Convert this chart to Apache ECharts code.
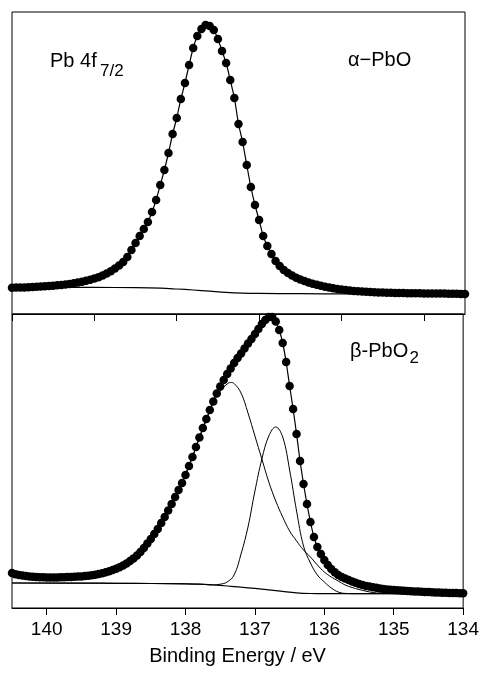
<!DOCTYPE html>
<html>
<head>
<meta charset="utf-8">
<script src="https://cdn.jsdelivr.net/npm/echarts@6/dist/echarts.min.js"></script>
<style>
html,body{margin:0;padding:0;background:#fff;}
#main{width:482px;height:679px;}
</style>
</head>
<body>
<div id="main"></div>
<script>
// energy grid of the measured points (eV), 0.05 eV step
const step = 0.05
const topStart = 140.0
const bottomStart = 140.5

// alpha-PbO, Pb 4f7/2 counts (arb. units), 140.00 -> 134.50
const topCounts = [
  26.3, 26.4, 26.5, 26.6, 26.8, 27.0, 27.2, 27.4, 27.7, 28.0,
  28.3, 28.7, 29.1, 29.6, 30.1, 30.8, 31.5, 32.3, 33.2, 34.2,
  35.4, 36.8, 38.5, 40.5, 42.8, 45.4, 48.4, 52.0, 57, 64,
  71, 78, 85, 92, 102, 114, 129, 144, 161, 180,
  196, 215, 231, 249, 266, 278, 285, 289, 288, 284,
  275, 263, 251, 234, 216, 190, 172, 149, 127, 109,
  94, 78, 68, 60, 53, 48, 44, 41, 38.5, 36.3,
  34.5, 33, 31.6, 30.3, 29.2, 28.2, 27.3, 26.5, 25.8, 25.1,
  24.5, 24.0, 23.5, 23.1, 22.8, 22.5, 22.2, 22.0, 21.8, 21.6,
  21.4, 21.3, 21.2, 21.1, 21.0, 20.9, 20.8, 20.8, 20.7, 20.7,
  20.6, 20.6, 20.5, 20.5, 20.4, 20.4, 20.3, 20.3, 20.2, 20.1,
  20.0
]
const topBgE = [140.0, 139.5, 139.0, 138.5, 138.2, 138.0, 137.8, 137.6, 137.4, 137.2, 137.0, 136.5, 136.0, 134.5]
const topBg = [26.7, 26.7, 26.6, 26.3, 25.8, 25.0, 24.0, 22.8, 21.6, 20.9, 20.6, 20.3, 20.1, 20.0]

// beta-PbO2 counts, 140.50 -> 134.00
const bottomCounts = [
  35.0, 33.8, 33.0, 32.4, 31.9, 31.5, 31.2, 31.0, 30.8, 30.7,
  30.6, 30.6, 30.6, 30.6, 30.7, 30.8, 30.9, 31.0, 31.2, 31.4,
  31.6, 31.9, 32.3, 32.8, 33.3, 34.0, 34.8, 35.7, 36.8, 38.0,
  39.3, 40.8, 42.5, 44.6, 47.0, 49.6, 52.5, 56.0, 60.0, 64.5,
  69, 74, 79, 85, 91, 97.5, 104, 111, 118, 125,
  133, 142, 151, 161, 170.5, 180, 189, 198, 206.5, 214.5,
  221.5, 228, 234, 239.5, 245, 250, 254.5, 259.5, 264.5, 269,
  274, 279, 284, 288, 291, 291, 286.5, 278, 265, 246,
  222, 199, 174, 147, 124, 104, 86, 71, 61, 54,
  48, 43, 39, 35.8, 33, 31, 29.5, 28, 26.5, 25.2,
  24, 23, 22, 21.4, 20.8, 20.2, 19.6, 19.1, 18.6, 18.3,
  18, 17.7, 17.5, 17.2, 17, 16.8, 16.6, 16.4, 16.2, 16.0,
  15.9, 15.7, 15.6, 15.4, 15.3, 15.2, 15.1, 15.0, 14.9, 14.8,
  14.7
]
const comp1E = [140.5, 140.3, 140.1, 139.9, 139.7, 139.5, 139.3, 139.1, 138.9, 138.7, 138.5, 138.3, 138.1, 137.9, 137.8, 137.7, 137.6, 137.5, 137.4, 137.35, 137.3, 137.2, 137.1, 137.0, 136.9, 136.8, 136.7, 136.6, 136.5, 136.4, 136.3, 136.2, 136.1, 136.0, 135.9, 135.8, 135.7, 135.6, 135.5, 135.4, 135.3, 135.2, 135.0, 134.0]
const comp1 = [35, 31.9, 30.8, 30.6, 30.9, 31.6, 33.3, 36.8, 42.5, 52.5, 69, 91, 118, 151, 170, 188, 205, 217, 224, 225.5, 224.5, 215, 195, 172, 149, 126, 107, 91, 77, 67, 58, 51, 43, 36, 31, 27, 23, 20.5, 18.5, 16.8, 15.5, 14.8, 14.4, 14.3]
const comp2E = [140.5, 139.0, 138.0, 137.8, 137.6, 137.5, 137.4, 137.3, 137.2, 137.1, 137.0, 136.9, 136.8, 136.7, 136.6, 136.5, 136.4, 136.3, 136.2, 136.1, 136.0, 135.9, 135.8, 135.7, 135.5, 134.0]
const comp2 = [25, 24.7, 24.2, 23.8, 23.2, 23.8, 26, 33, 54, 81, 117, 149, 172, 181, 171, 138, 97, 62, 45, 33, 26, 20, 16, 14.6, 14.3, 14.3]
const bottomBgE = [140.5, 139.5, 139.0, 138.5, 138.0, 137.8, 137.6, 137.4, 137.2, 137.0, 136.8, 136.6, 136.4, 136.2, 136.0, 134.0]
const bottomBg = [25.0, 24.9, 24.7, 24.5, 24.2, 23.8, 23.0, 22.0, 20.8, 19.6, 18.2, 16.6, 15.2, 14.5, 14.3, 14.3]

const topTicks = [140, 139, 138, 137, 136, 135]
const bottomTicks = [140, 139, 138, 137, 136, 135, 134]

function grid(start, vals){
  return vals.map((v,i)=>[+(start - i*step).toFixed(2), v])
}
function pairs(es, vs){
  return es.map((e,i)=>[e, vs[i]])
}

const font = '"Liberation Sans", Arial, sans-serif'
const topData = grid(topStart, topCounts)
const bottomData = grid(bottomStart, bottomCounts)

let myChart = echarts.init(document.getElementById('main'))
myChart.setOption({
  animation:false,
  backgroundColor:'#fff',
  grid:[
    {left:12, right:17, top:12, height:302, show:true, borderColor:'#000', borderWidth:1},
    {left:12, right:17, top:314, height:294, show:true, borderColor:'#000', borderWidth:1}
  ],
  xAxis:[
    {
      gridIndex:0, type:'value', min:134.5, max:140, inverse:true,
      axisLine:{lineStyle:{color:'#000', width:1}},
      axisTick:{length:7, customValues:topTicks, lineStyle:{color:'#000'}},
      axisLabel:{show:false},
      splitLine:{show:false}
    },
    {
      gridIndex:1, type:'value', min:134, max:140.5, inverse:true,
      axisLine:{lineStyle:{color:'#000', width:1}},
      axisTick:{length:7, customValues:bottomTicks, lineStyle:{color:'#000'}},
      axisLabel:{customValues:bottomTicks, color:'#000', fontSize:19, fontFamily:font, margin:12},
      splitLine:{show:false},
      name:'Binding Energy / eV',
      nameLocation:'middle',
      nameGap:38,
      nameTextStyle:{color:'#000', fontSize:20, fontFamily:font}
    }
  ],
  yAxis:[
    {gridIndex:0, type:'value', min:0, max:302, show:false},
    {gridIndex:1, type:'value', min:0, max:294, show:false}
  ],
  graphic:[
    {type:'text', x:50, y:61.7, style:{text:'Pb 4f', font:'20px '+font, fill:'#000', verticalAlign:'middle'}},
    {type:'text', x:100, y:71, style:{text:'7/2', font:'17px '+font, fill:'#000', verticalAlign:'middle'}},
    {type:'text', x:348, y:60, style:{text:'α\u2212PbO', font:'20px '+font, fill:'#000', verticalAlign:'middle'}},
    {type:'text', x:350, y:351.3, style:{text:'β-PbO', font:'20px '+font, fill:'#000', verticalAlign:'middle'}},
    {type:'text', x:409.5, y:358.5, style:{text:'2', font:'17px '+font, fill:'#000', verticalAlign:'middle'}}
  ],
  series:[
    {
      name:'top bg', type:'line', xAxisIndex:0, yAxisIndex:0,
      data:pairs(topBgE, topBg), smooth:0.4, showSymbol:false,
      lineStyle:{color:'#000', width:1.2}
    },
    {
      name:'top fit', type:'line', xAxisIndex:0, yAxisIndex:0,
      data:topData, showSymbol:false, smooth:0.2,
      lineStyle:{color:'#000', width:1.2}
    },
    {
      name:'top data', type:'scatter', xAxisIndex:0, yAxisIndex:0,
      data:topData, symbolSize:8.5, clip:false,
      itemStyle:{color:'#000', opacity:1}
    },
    {
      name:'bottom bg', type:'line', xAxisIndex:1, yAxisIndex:1,
      data:pairs(bottomBgE, bottomBg), smooth:0.4, showSymbol:false,
      lineStyle:{color:'#000', width:1.2}
    },
    {
      name:'comp 1', type:'line', xAxisIndex:1, yAxisIndex:1,
      data:pairs(comp1E, comp1), smooth:0.4, showSymbol:false,
      lineStyle:{color:'#000', width:1}
    },
    {
      name:'comp 2', type:'line', xAxisIndex:1, yAxisIndex:1,
      data:pairs(comp2E, comp2), smooth:0.4, showSymbol:false,
      lineStyle:{color:'#000', width:1}
    },
    {
      name:'bottom fit', type:'line', xAxisIndex:1, yAxisIndex:1,
      data:bottomData, showSymbol:false, smooth:0.2,
      lineStyle:{color:'#000', width:1.2}
    },
    {
      name:'bottom data', type:'scatter', xAxisIndex:1, yAxisIndex:1,
      data:bottomData, symbolSize:8.5, clip:false,
      itemStyle:{color:'#000', opacity:1}
    }
  ]
})
</script>
</body>
</html>
